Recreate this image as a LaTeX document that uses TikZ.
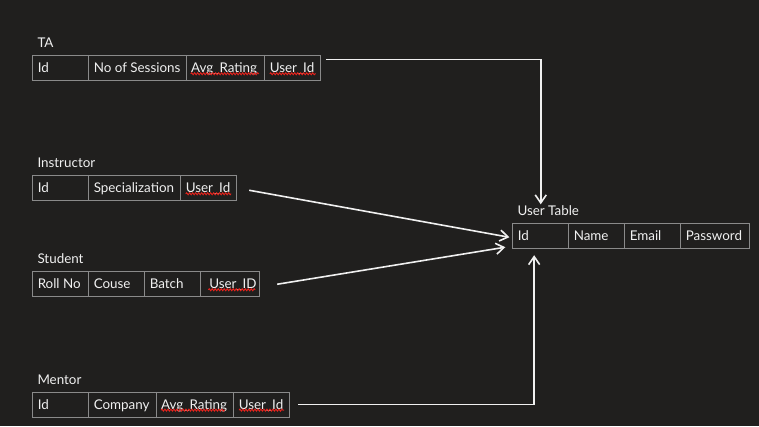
\documentclass[tikz,border=0pt]{standalone}
\usepackage{fontspec}
\setmainfont{Lato}
\usetikzlibrary{arrows.meta,decorations.pathmorphing}
\definecolor{bg}{HTML}{201F1E}
\definecolor{grid}{HTML}{8A8A8A}
\definecolor{fg}{HTML}{F0F0F0}
\definecolor{wavy}{HTML}{E8221C}
\newcommand\cellfont{\fontsize{13.4}{16}\selectfont}
\newcommand\celltext[2]{\makebox[#1pt][l]{#2}}
\tikzset{
    cell/.style={draw=grid, line width=0.9pt, text=fg, align=left,
        inner xsep=5pt, inner ysep=0pt, minimum height=25pt, text height=11.5pt,
        text depth=2.5pt, anchor=north west, font=\cellfont},
    title/.style={text=fg, anchor=base west, inner sep=0pt, font=\cellfont},
    link/.style={draw=fg, line width=1.6pt, -{Straight Barb[length=8pt,width=11pt]}},
    spell/.style={draw=wavy, line width=0.9pt, decorate,
        decoration={snake, amplitude=1pt, segment length=3pt}},
}
\begin{document}
\begin{tikzpicture}[x=1pt, y=-1pt]
        \fill[bg] (0,0) rectangle (759,426);
        \useasboundingbox (0,0) rectangle (759,426);

        \foreach \n/\x/\w/\lbl in {1/32.3/46/Id, 2/88.3/87.4/No of Sessions, 3/185.7/68.6/Avg\_Rating, 4/264.3/45.7/User\_Id}
        {
            \node[cell] (ta\n) at (\x,55.3) {\celltext{\w}{\lbl}};
        }
        \foreach \n/\x/\w/\lbl in {1/32.3/46/Id, 2/88.3/82/Specialization, 3/180.3/46/User\_Id}
        {
            \node[cell] (in\n) at (\x,175.3) {\celltext{\w}{\lbl}};
        }
        \foreach \n/\x/\w/\lbl in {1/32.3/46/Roll No, 2/88.3/46/Couse, 3/144.3/46/Batch, 4/200.3/49/\hspace*{3.5pt}User\_ID}
        {
            \node[cell] (st\n) at (\x,271.3) {\celltext{\w}{\lbl}};
        }
        \foreach \n/\x/\w/\lbl in {1/32.3/46/Id, 2/88.3/57.4/Company, 3/155.7/67.6/Avg\_Rating, 4/233.3/46/User\_Id}
        {
            \node[cell] (me\n) at (\x,391.7) {\celltext{\w}{\lbl}};
        }
        \foreach \n/\x/\w/\lbl in {1/512.3/46/Id, 2/568.3/46/Name, 3/624.3/46/Email, 4/680.3/59/Password}
        {
            \node[cell] (us\n) at (\x,223.3) {\celltext{\w}{\lbl}};
        }

        \node[title] (taT) at ([xshift=5pt,yshift=7.5pt]ta1.north west) {TA};
        \node[title] (inT) at ([xshift=5pt,yshift=7.5pt]in1.north west) {Instructor};
        \node[title] (stT) at ([xshift=5pt,yshift=7.5pt]st1.north west) {Student};
        \node[title] (meT) at ([xshift=5pt,yshift=7.5pt]me1.north west) {Mentor};
        \node[title] (usT) at ([xshift=5pt,yshift=7.5pt]us1.north west) {User Table};

        \foreach \c/\a/\b in {ta3/5/-6, ta4/5.5/-5, in3/5.4/-6, st4/8/-5, me3/5.3/-9, me4/5.7/-6}
        {
            \draw[spell] ([xshift=\a pt,yshift=-5.5pt]\c.west) -- ([xshift=\b pt,yshift=-5.5pt]\c.east);
        }

        \draw[link] ([xshift=5pt,yshift=-4pt]ta4.north east) -| ([yshift=19pt]us1.north);
        \draw[link] ([xshift=12pt,yshift=-2pt]in3.east) -- ([xshift=-3pt,yshift=-1pt]us1.west);
        \draw[link] ([xshift=17pt]st4.east) -- ([xshift=-7pt,yshift=2pt]us1.south west);
        \draw[link] ([xshift=8pt]me4.east) -| ([xshift=-6.6pt,yshift=-6pt]us1.south);
    \end{tikzpicture}
\end{document}
